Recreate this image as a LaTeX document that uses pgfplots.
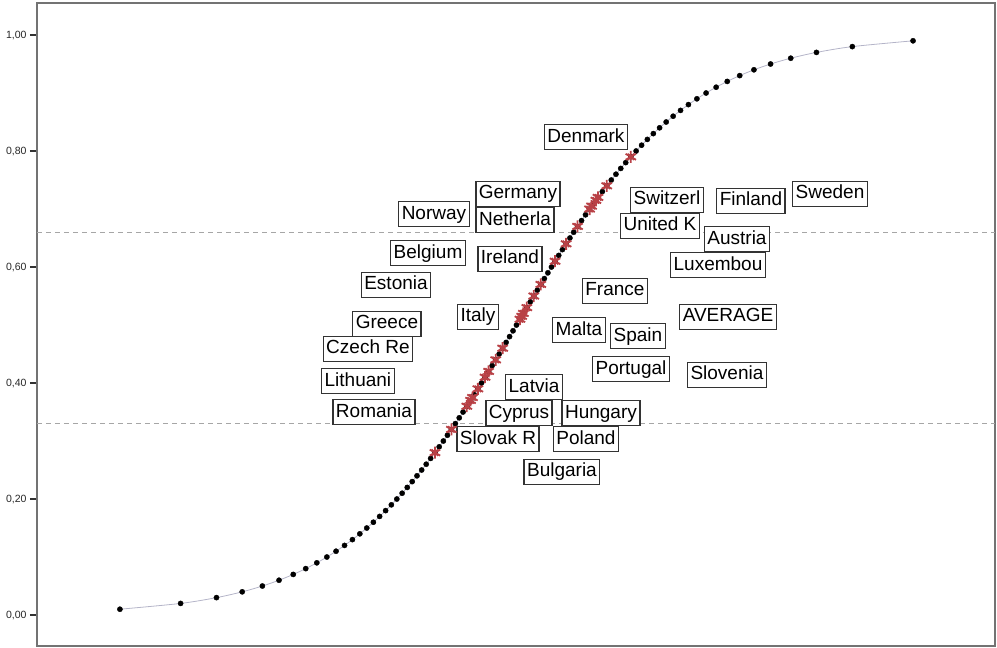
\documentclass[border=0pt]{standalone}
\usepackage{fontspec}
\setmainfont{Liberation Sans}
\usepackage{pgfplots}
\pgfplotsset{compat=1.18}

\definecolor{curveline}{RGB}{180,180,200}
\definecolor{starred}{RGB}{185,65,70}

% logit position on x, cumulative share on y
\pgfplotstableread{
x y
-4.5951 0.01
-3.8918 0.02
-3.4761 0.03
-3.1781 0.04
-2.9444 0.05
-2.7515 0.06
-2.5867 0.07
-2.4423 0.08
-2.3136 0.09
-2.1972 0.10
-2.0907 0.11
-1.9924 0.12
-1.9010 0.13
-1.8153 0.14
-1.7346 0.15
-1.6582 0.16
-1.5856 0.17
-1.5163 0.18
-1.4500 0.19
-1.3863 0.20
-1.3249 0.21
-1.2657 0.22
-1.2083 0.23
-1.1527 0.24
-1.0986 0.25
-1.0460 0.26
-0.9946 0.27
-0.9445 0.28
-0.8954 0.29
-0.8473 0.30
-0.8001 0.31
-0.7538 0.32
-0.7082 0.33
-0.6633 0.34
-0.6190 0.35
-0.5754 0.36
-0.5322 0.37
-0.4895 0.38
-0.4473 0.39
-0.4055 0.40
-0.3640 0.41
-0.3228 0.42
-0.2819 0.43
-0.2412 0.44
-0.2007 0.45
-0.1603 0.46
-0.1201 0.47
-0.0800 0.48
-0.0400 0.49
0.0000 0.50
0.0400 0.51
0.0800 0.52
0.1201 0.53
0.1603 0.54
0.2007 0.55
0.2412 0.56
0.2819 0.57
0.3228 0.58
0.3640 0.59
0.4055 0.60
0.4473 0.61
0.4895 0.62
0.5322 0.63
0.5754 0.64
0.6190 0.65
0.6633 0.66
0.7082 0.67
0.7538 0.68
0.8001 0.69
0.8473 0.70
0.8954 0.71
0.9445 0.72
0.9946 0.73
1.0460 0.74
1.0986 0.75
1.1527 0.76
1.2083 0.77
1.2657 0.78
1.3249 0.79
1.3863 0.80
1.4500 0.81
1.5163 0.82
1.5856 0.83
1.6582 0.84
1.7346 0.85
1.8153 0.86
1.9010 0.87
1.9924 0.88
2.0907 0.89
2.1972 0.90
2.3136 0.91
2.4423 0.92
2.5867 0.93
2.7515 0.94
2.9444 0.95
3.1781 0.96
3.4761 0.97
3.8918 0.98
4.5951 0.99
}\curvetable

% countries sitting on the curve
\pgfplotstableread{
x y
-0.9445 0.28
-0.7538 0.32
-0.5754 0.36
-0.5322 0.37
-0.5100 0.375
-0.4473 0.39
-0.3640 0.41
-0.3228 0.42
-0.2412 0.44
-0.1603 0.46
0.0400 0.51
0.0600 0.515
0.0800 0.52
0.1201 0.53
0.2007 0.55
0.2819 0.57
0.4473 0.61
0.5754 0.64
0.7082 0.67
0.8473 0.70
0.8700 0.705
0.9200 0.715
0.9445 0.72
1.0460 0.74
1.3249 0.79
}\countrytable

\tikzset{lbl/.style={draw=black!80, line width=1.3pt, fill=white,
  font=\fontsize{19}{19}\selectfont, text height=14pt, text depth=4pt,
  inner xsep=3pt, inner ysep=3.5pt}}

\begin{document}
\begin{tikzpicture}
\begin{axis}[
  scale only axis,
  width=958pt, height=643pt,
  xmin=-5.556, xmax=5.545,
  ymin=-0.0534, ymax=1.0552,
  axis line style={draw=black!55, line width=1.2pt},
  xtick=\empty,
  ytick={0,0.2,0.4,0.6,0.8,1},
  ytick pos=left,
  tick align=outside,
  major tick length=7pt,
  ytick style={draw=black!80, line width=1.1pt},
  yticklabel style={font=\fontsize{10.5}{12}\selectfont, text=black!85,
    /pgf/number format/.cd, fixed, fixed zerofill, precision=2,
    use comma, assume math mode=true},
]
  % reference lines
  \addplot[black!35, line width=0.8pt, dash pattern=on 5pt off 4pt]
    coordinates {(-5.556,0.33) (5.545,0.33)};
  \addplot[black!35, line width=0.8pt, dash pattern=on 5pt off 4pt]
    coordinates {(-5.556,0.66) (5.545,0.66)};

  % curve and its points
  \addplot[curveline, line width=0.8pt, smooth] table {\curvetable};
  \addplot[only marks, mark=*, mark size=2.6pt, black] table {\curvetable};

  % countries
  \addplot[only marks, mark=asterisk, mark size=6pt, starred,
    mark options={line width=1.8pt}] table {\countrytable};
  \addplot[only marks, mark=x, mark size=4.5pt, starred,
    mark options={line width=1.6pt}] table {\countrytable};

  % labels
  \node[lbl] at (axis cs:0.805,0.824) {Denmark};
  \node[lbl] at (axis cs:0.017,0.726) {Germany};
  \node[lbl] at (axis cs:-0.017,0.681) {Netherla};
  \node[lbl] at (axis cs:-0.956,0.691) {Norway};
  \node[lbl] at (axis cs:-1.025,0.624) {Belgium};
  \node[lbl] at (axis cs:-0.075,0.614) {Ireland};
  \node[lbl] at (axis cs:-1.396,0.569) {Estonia};
  \node[lbl] at (axis cs:-0.446,0.514) {Italy};
  \node[lbl] at (axis cs:-1.501,0.502) {Greece};
  \node[lbl] at (axis cs:-1.721,0.459) {Czech Re};
  \node[lbl] at (axis cs:-1.837,0.403) {Lithuani};
  \node[lbl] at (axis cs:-1.651,0.350) {Romania};
  \node[lbl] at (axis cs:0.203,0.393) {Latvia};
  \node[lbl] at (axis cs:0.029,0.348) {Cyprus};
  \node[lbl] at (axis cs:-0.214,0.303) {Slovak R};
  \node[lbl] at (axis cs:0.979,0.348) {Hungary};
  \node[lbl] at (axis cs:0.805,0.303) {Poland};
  \node[lbl] at (axis cs:0.527,0.247) {Bulgaria};
  \node[lbl] at (axis cs:0.724,0.491) {Malta};
  \node[lbl] at (axis cs:1.408,0.481) {Spain};
  \node[lbl] at (axis cs:1.327,0.424) {Portugal};
  \node[lbl] at (axis cs:1.141,0.559) {France};
  \node[lbl] at (axis cs:2.451,0.514) {AVERAGE};
  \node[lbl] at (axis cs:2.439,0.414) {Slovenia};
  \node[lbl] at (axis cs:2.335,0.603) {Luxembou};
  \node[lbl] at (axis cs:2.555,0.648) {Austria};
  \node[lbl] at (axis cs:1.663,0.671) {United K};
  \node[lbl] at (axis cs:1.744,0.716) {Switzerl};
  \node[lbl] at (axis cs:2.717,0.714) {Finland};
  \node[lbl] at (axis cs:3.633,0.726) {Sweden};
\end{axis}
\pgfresetboundingbox
\path[use as bounding box] (current axis.south west) ++(-37pt,-2pt) rectangle ++(997pt,648pt);
\end{tikzpicture}
\end{document}
